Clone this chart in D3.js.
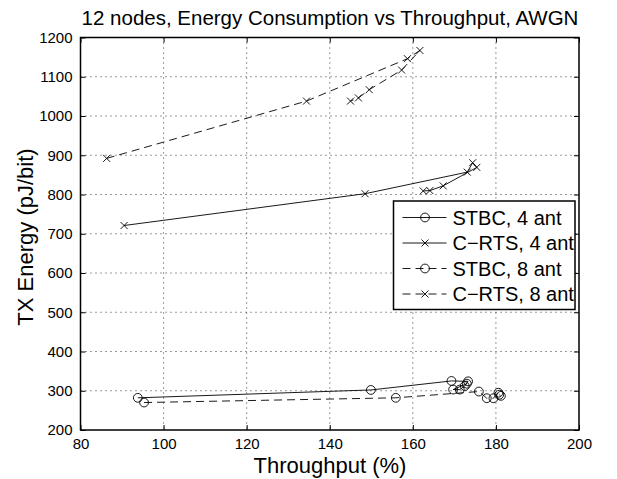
<!DOCTYPE html>
<html>
<head>
<meta charset="utf-8">
<script src="https://cdn.jsdelivr.net/npm/d3@7"></script>
<style>
body { margin: 0; background: #fff; }
text { font-family: "Liberation Sans", Arial, sans-serif; fill: #000; }
</style>
</head>
<body>
<script>
// throughput (%) and TX energy (pJ/bit), points in the order they were plotted
var stbc4_x = [93.8, 149.9, 169.3, 173.3, 172.5, 171.3, 169.7, 173.0];
var stbc4_y = [282, 302, 325, 324, 312, 303, 303, 318];
var crts4_x = [90.5, 148.5, 173.1, 174.4, 175.4, 167.3, 164.1, 162.5];
var crts4_y = [721, 802, 857, 881, 869, 822, 810, 809];
var stbc8_x = [95.3, 155.9, 175.9, 177.8, 179.4, 180.6, 181.2, 180.8];
var stbc8_y = [270, 282, 298, 281, 281, 295, 287, 290];
var crts8_x = [86.3, 134.4, 158.7, 161.7, 157.3, 149.5, 146.9, 145.0];
var crts8_y = [892, 1038, 1146, 1167, 1117, 1067, 1046, 1038];

var xTicks = [80, 100, 120, 140, 160, 180, 200];
var yTicks = [200, 300, 400, 500, 600, 700, 800, 900, 1000, 1100, 1200];

var series = [
  {name: "STBC, 4 ant", xs: stbc4_x, ys: stbc4_y, marker: "o", dash: null},
  {name: "C\u2212RTS, 4 ant", xs: crts4_x, ys: crts4_y, marker: "x", dash: null},
  {name: "STBC, 8 ant", xs: stbc8_x, ys: stbc8_y, marker: "o", dash: "8,5"},
  {name: "C\u2212RTS, 8 ant", xs: crts8_x, ys: crts8_y, marker: "x", dash: "8,5"}
];

var W = 617, H = 479;
var pL = 80.5, pR = 579, pT = 37.5, pB = 430;

var svg = d3.select("body").append("svg")
  .attr("width", W)
  .attr("height", H);

var x = d3.scaleLinear().domain([80, 200]).range([pL, pR]);
var y = d3.scaleLinear().domain([200, 1200]).range([pB, pT]);

// dotted grid
svg.append("g").selectAll("line")
  .data(xTicks.slice(1, -1)).enter()
  .append("line")
  .attr("x1", function(d) { return x(d); })
  .attr("x2", function(d) { return x(d); })
  .attr("y1", pT).attr("y2", pB)
  .attr("stroke", "#000").attr("stroke-width", 0.8)
  .attr("stroke-dasharray", "1,4");
svg.append("g").selectAll("line")
  .data(yTicks.slice(1, -1)).enter()
  .append("line")
  .attr("y1", function(d) { return y(d); })
  .attr("y2", function(d) { return y(d); })
  .attr("x1", pL).attr("x2", pR)
  .attr("stroke", "#000").attr("stroke-width", 0.8)
  .attr("stroke-dasharray", "1,4");

// axes with inward ticks on all four sides
var gx = svg.append("g").attr("transform", "translate(0," + pB + ")")
  .call(d3.axisBottom(x).tickValues(xTicks).tickSize(-5).tickPadding(8).tickFormat(d3.format("d")));
var gxt = svg.append("g").attr("transform", "translate(0," + pT + ")")
  .call(d3.axisTop(x).tickValues(xTicks).tickSize(-5).tickFormat(""));
var gy = svg.append("g").attr("transform", "translate(" + pL + ",0)")
  .call(d3.axisLeft(y).tickValues(yTicks).tickSize(-5).tickPadding(8).tickFormat(d3.format("d")));
var gyr = svg.append("g").attr("transform", "translate(" + pR + ",0)")
  .call(d3.axisRight(y).tickValues(yTicks).tickSize(-5).tickFormat(""));

[gx, gxt, gy, gyr].forEach(function(g) {
  g.select(".domain").remove();
  g.selectAll(".tick line").attr("stroke", "#000").attr("stroke-width", 1);
  g.selectAll("text").style("font-family", "Liberation Sans, Arial, sans-serif")
    .style("font-size", "15px").attr("fill", "#000");
});

svg.append("rect")
  .attr("x", pL).attr("y", pT)
  .attr("width", pR - pL).attr("height", pB - pT)
  .attr("fill", "none").attr("stroke", "#000").attr("stroke-width", 1.5);

// series
var line = d3.line()
  .x(function(d) { return x(d[0]); })
  .y(function(d) { return y(d[1]); });

function drawMarker(g, m, cx, cy) {
  if (m === "o") {
    g.append("circle").attr("cx", cx).attr("cy", cy).attr("r", 4.4)
      .attr("fill", "none").attr("stroke", "#000").attr("stroke-width", 0.9);
  } else {
    var s = 3.5;
    g.append("path")
      .attr("d", "M" + (cx - s) + "," + (cy - s) + "L" + (cx + s) + "," + (cy + s) +
                 "M" + (cx - s) + "," + (cy + s) + "L" + (cx + s) + "," + (cy - s))
      .attr("stroke", "#000").attr("stroke-width", 0.9);
  }
}

series.forEach(function(s) {
  var pts = s.xs.map(function(v, i) { return [v, s.ys[i]]; });
  var g = svg.append("g");
  g.append("path").datum(pts)
    .attr("d", line)
    .attr("fill", "none").attr("stroke", "#000").attr("stroke-width", 0.9)
    .attr("stroke-dasharray", s.dash);
  pts.forEach(function(p) { drawMarker(g, s.marker, x(p[0]), y(p[1])); });
});

// legend
var lg = svg.append("g");
lg.append("rect")
  .attr("x", 393.5).attr("y", 201).attr("width", 181.5).attr("height", 108.5)
  .attr("fill", "#fff").attr("stroke", "#000").attr("stroke-width", 1.5);
series.forEach(function(s, i) {
  var ly = 217.5 + i * 25.5;
  lg.append("line").attr("x1", 402.5).attr("x2", 446.5).attr("y1", ly).attr("y2", ly)
    .attr("stroke", "#000").attr("stroke-width", 0.9).attr("stroke-dasharray", s.dash);
  drawMarker(lg, s.marker, 425, ly);
  lg.append("text").attr("x", 452.5).attr("y", ly).attr("dy", "0.36em")
    .style("font-size", "20px").text(s.name);
});

// title and labels
svg.append("text").attr("x", 330).attr("y", 25).attr("text-anchor", "middle")
  .style("font-size", "20.5px").text("12 nodes, Energy Consumption vs Throughput, AWGN");
svg.append("text").attr("x", 330).attr("y", 473).attr("text-anchor", "middle")
  .style("font-size", "22px").text("Throughput (%)");
svg.append("text").attr("transform", "translate(33,237) rotate(-90)").attr("text-anchor", "middle")
  .style("font-size", "22px").text("TX Energy (pJ/bit)");
</script>
</body>
</html>
